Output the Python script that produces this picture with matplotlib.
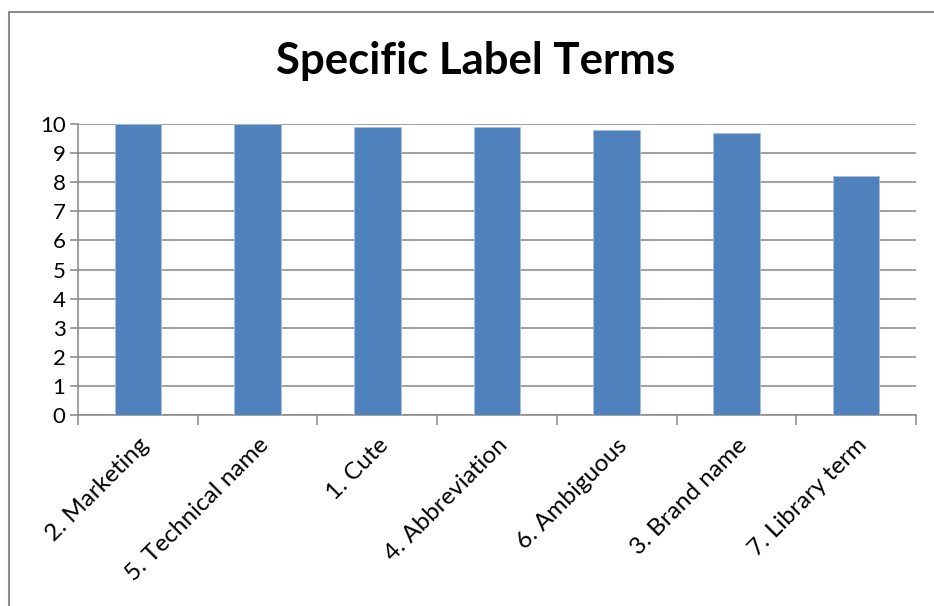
import matplotlib.pyplot as plt
from matplotlib.patches import Rectangle
from matplotlib.ticker import FixedLocator

categories = ['2. Marketing', '5. Technical name', '1. Cute', '4. Abbreviation',
              '6. Ambiguous', '3. Brand name', '7. Library term']
scores = [10, 10, 9.9, 9.9, 9.8, 9.7, 8.2]
y_ticks = list(range(0, 11))

plt.rcParams['font.family'] = ['Lato', 'DejaVu Sans']

W, H = 934, 606
fig = plt.figure(figsize=(W / 100, H / 100), dpi=100)
ax = fig.add_axes([78 / W, (H - 415) / H, (916 - 78) / W, (415 - 124) / H])

grid_col = '#868686'
x = list(range(len(categories)))
ax.bar(x, scores, width=0.39, color='#4F81BD', edgecolor='#A7C0DE', linewidth=0.6, zorder=3)

ax.set_xlim(-0.5, len(categories) - 0.5)
ax.set_ylim(0, 10)
ax.set_yticks(y_ticks)
ax.tick_params(axis='y', labelsize=16, length=6, width=1.1, color=grid_col, pad=3)
ax.yaxis.grid(True, color=grid_col, linewidth=1.1, zorder=0)

# category boundaries carry the tick marks, labels sit at the centres
ax.xaxis.set_major_locator(FixedLocator([i - 0.5 for i in range(len(categories) + 1)]))
ax.xaxis.set_minor_locator(FixedLocator(x))
ax.set_xticklabels([])
ax.set_xticklabels(categories, minor=True, rotation=45, ha='right', va='top',
                   rotation_mode='anchor', fontsize=17.5)
ax.tick_params(axis='x', which='major', length=7, width=1.1, color=grid_col)
ax.tick_params(axis='x', which='minor', length=0, pad=14)

for side in ['top', 'right']:
    ax.spines[side].set_visible(False)
for side in ['left', 'bottom']:
    ax.spines[side].set_color(grid_col)
    ax.spines[side].set_linewidth(1.1)

fig.text(476 / W, 1 - 61 / H, 'Specific Label Terms', ha='center', va='center',
         fontsize=31.5, fontweight='bold')

# chart area border
fig.add_artist(Rectangle((8.5 / W, -0.1), 1.2, 1.1 - 11.5 / H, transform=fig.transFigure,
                         fill=False, edgecolor='#8c8c8c', linewidth=1.5))

fig.savefig('out.png', dpi=100)
